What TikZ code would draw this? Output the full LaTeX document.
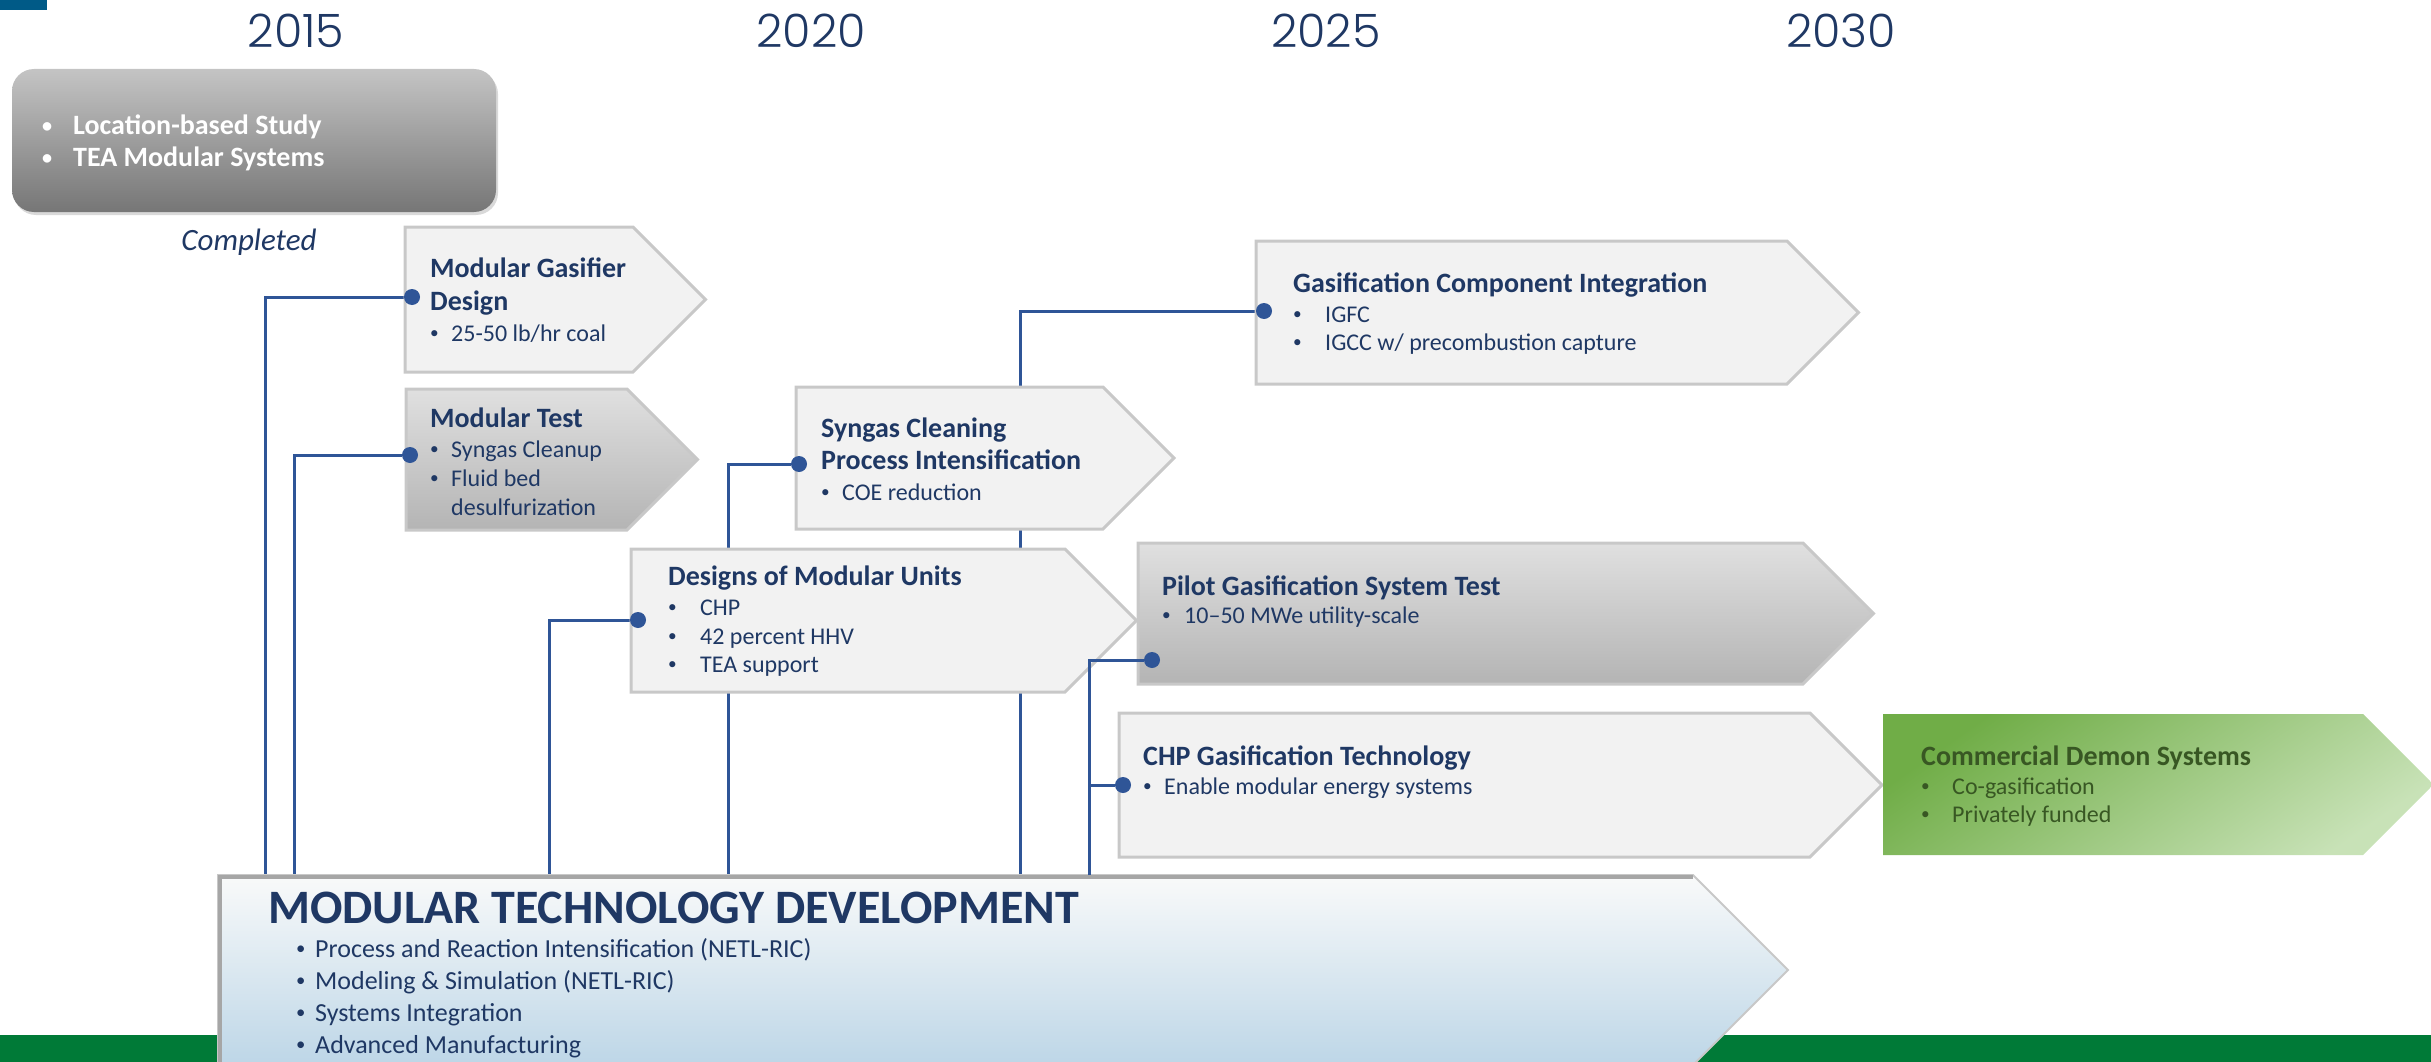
\documentclass[tikz,border=0pt]{standalone}
\usepackage{graphicx}
\usepackage{fontspec}
\setmainfont{Carlito}
\newfontfamily\yearfont{Poppins Light}
\usetikzlibrary{shadows}

\definecolor{navy}{RGB}{31,56,100}
\definecolor{linkblue}{RGB}{47,85,151}
\definecolor{tealcorner}{RGB}{0,90,135}
\definecolor{stagefill}{RGB}{242,242,242}
\definecolor{stageedge}{RGB}{200,200,200}
\definecolor{testtop}{RGB}{224,224,224}
\definecolor{testbottom}{RGB}{180,180,180}
\definecolor{donetop}{RGB}{196,196,196}
\definecolor{donebottom}{RGB}{118,118,118}
\definecolor{demotop}{RGB}{112,173,71}
\definecolor{demobottom}{RGB}{200,226,183}
\definecolor{demotext}{RGB}{56,87,35}
\definecolor{mtdtop}{RGB}{249,250,250}
\definecolor{mtdbottom}{RGB}{189,214,231}
\definecolor{bandgreen}{RGB}{0,122,55}

\pgfmathsetmacro{\footy}{875}
\pgfdeclarelayer{background}
\pgfsetlayers{background,main}

% bullet with its own indent
\newcommand{\bul}[1][21pt]{\makebox[#1][l]{\raisebox{0.1em}{\scalebox{0.72}{\textbullet}}}}
\newcommand{\stagetitle}[1]{{\fontsize{28}{33}\selectfont\bfseries #1}}
\newcommand{\stagelines}[1]{\begin{tabular}[t]{@{}l@{}}#1\end{tabular}}
% chevron: style, left, top, body right, bottom
\newcommand{\chevron}[5]{%
  \path[#1] (#2,#3) -- (#4,#3) -- ({#4+(#5-#3)/2},{(#3+#5)/2}) -- (#4,#5) -- (#2,#5) -- cycle;}

\tikzset{
  stage_box/.style={fill=stagefill, draw=stageedge, line width=3pt},
  test_box/.style={top color=testtop, bottom color=testbottom, draw=stageedge, line width=3pt},
  stage_text/.style={anchor=base west, inner sep=0pt, text=navy, font=\fontsize{24}{29}\selectfont},
  conn_line/.style={draw=linkblue, line width=3pt},
  conn_dot/.style={circle, fill=linkblue, inner sep=0pt, minimum size=16pt},
  year/.style={anchor=base, inner sep=0pt, text=navy, font=\yearfont\fontsize{46}{46}\selectfont},
}

\begin{document}
\begin{tikzpicture}[x=1pt, y=-1pt]
    \useasboundingbox (0,0) rectangle (2431,1062);
    % corner mark and bottom band
    \fill[tealcorner] (0,0) rectangle (47,10);
    \fill[bandgreen] (0,1035) rectangle (2431,1070);
    % years
    \node[year] (year_2015) at (296,48) {2015};
    \node[year] (year_2020) at (811,48) {2020};
    \node[year] (year_2025) at (1326,48) {2025};
    \node[year] (year_2030) at (1841,48) {2030};
    % completed work
    \path[rounded corners=22pt, top color=donetop, bottom color=donebottom,
        drop shadow={opacity=0.3, shadow xshift=2pt, shadow yshift=-3pt}] (12,69) rectangle (496,212);
    \node[stage_text, text=white, font=\fontsize{28}{32}\selectfont\bfseries] (done_text) at (42,135)
        {\stagelines{\bul[31pt]Location-based Study\\ \bul[31pt]TEA Modular Systems}};
    \node[anchor=base, inner sep=0pt, text=navy, font=\fontsize{31}{31}\selectfont\itshape] (done_label) at (249,250) {Completed};
    % stages
    \chevron{stage_box}{405}{227}{633}{372}
    \node[stage_text] (gasifier_text) at (430,277)
        {\stagelines{\stagetitle{Modular Gasifier}\\[4pt] \stagetitle{Design}\\[2pt] \bul 25-50 lb/hr coal}};
    \chevron{test_box}{406}{389}{627}{530}
    \node[stage_text] (test_text) at (430,427)
        {\stagelines{\stagetitle{Modular Test}\\[1pt] \bul Syngas Cleanup\\ \bul Fluid bed\\ \hspace*{21pt}desulfurization}};
    \chevron{stage_box}{796}{387}{1103}{529}
    \node[stage_text] (syngas_text) at (821,437)
        {\stagelines{\stagetitle{Syngas Cleaning}\\[3pt] \stagetitle{Process Intensification}\\[2pt] \bul COE reduction}};
    \chevron{stage_box}{631}{549}{1065}{692}
    \node[stage_text] (designs_text) at (668,585)
        {\stagelines{\stagetitle{Designs of Modular Units}\\[1pt] \bul[32pt]CHP\\ \bul[32pt]42 percent HHV\\[-1pt] \bul[32pt]TEA support}};
    \chevron{stage_box}{1256}{241}{1787}{384}
    \node[stage_text] (integration_text) at (1293,292)
        {\stagelines{\stagetitle{Gasification Component Integration}\\[1pt] \bul[32pt]IGFC\\[-1pt] \bul[32pt]IGCC w/ precombustion capture}};
    \chevron{test_box}{1138}{543}{1803}{684}
    \node[stage_text] (pilot_text) at (1162,595)
        {\stagelines{\stagetitle{Pilot Gasification System Test}\\[-1pt] \bul[22pt]10--50 MWe utility-scale}};
    \chevron{stage_box}{1119}{713}{1810}{857}
    \node[stage_text] (chp_text) at (1143,765)
        {\stagelines{\stagetitle{CHP Gasification Technology}\\ \bul Enable modular energy systems}};
    \chevron{top color=demotop, bottom color=demobottom, shading angle=35}{1883}{714}{2363}{855}
    \node[stage_text, text=demotext] (demo_text) at (1921,765)
        {\stagelines{\stagetitle{Commercial Demon Systems}\\ \bul[31pt]Co-gasification\\[-1pt] \bul[31pt]Privately funded}};
    % modular technology development
    \chevron{top color=mtdtop, bottom color=mtdbottom, draw=stageedge, line width=2pt}{218}{875}{1693}{1065}
    \draw[gray!70, line width=4pt] (220,1065) -- (220,877) -- (1693,877);
    \node[stage_text, font=\fontsize{48}{48}\selectfont\bfseries] (mtd_title) at (268,923) {MODULAR TECHNOLOGY DEVELOPMENT};
    \node[stage_text, font=\fontsize{26}{32}\selectfont] (mtd_list) at (296,957)
        {\stagelines{\bul[19pt]Process and Reaction Intensification (NETL-RIC)\\ \bul[19pt]Modeling \& Simulation (NETL-RIC)\\ \bul[19pt]Systems Integration\\ \bul[19pt]Advanced Manufacturing}};
    % dots and their feet on the development bar
    \node[conn_dot] (dot_gasifier) at (412,297) {};
    \node[conn_dot] (dot_test) at (410,455) {};
    \node[conn_dot] (dot_designs) at (638,620) {};
    \node[conn_dot] (dot_syngas) at (799,464) {};
    \node[conn_dot] (dot_integration) at (1264,311) {};
    \node[conn_dot] (dot_pilot) at (1152,660) {};
    \node[conn_dot] (dot_chp) at (1123,785) {};
    \coordinate (foot_gasifier) at (265,\footy);
    \coordinate (foot_test) at (294,\footy);
    \coordinate (foot_designs) at (549,\footy);
    \coordinate (foot_syngas) at (728,\footy);
    \coordinate (foot_integration) at (1020,\footy);
    \coordinate (foot_pilot) at (1089,\footy);
    % connectors (behind the boxes)
    \begin{pgfonlayer}{background}
        \draw[conn_line] (foot_gasifier) |- (dot_gasifier);
        \draw[conn_line] (foot_test) |- (dot_test);
        \draw[conn_line] (foot_designs) |- (dot_designs);
        \draw[conn_line] (foot_syngas) |- (dot_syngas);
        \draw[conn_line] (foot_integration) |- (dot_integration);
    \end{pgfonlayer}
    \draw[conn_line] (foot_pilot) |- (dot_pilot);
    \draw[conn_line] (foot_pilot) |- (dot_chp);
\end{tikzpicture}
\end{document}
